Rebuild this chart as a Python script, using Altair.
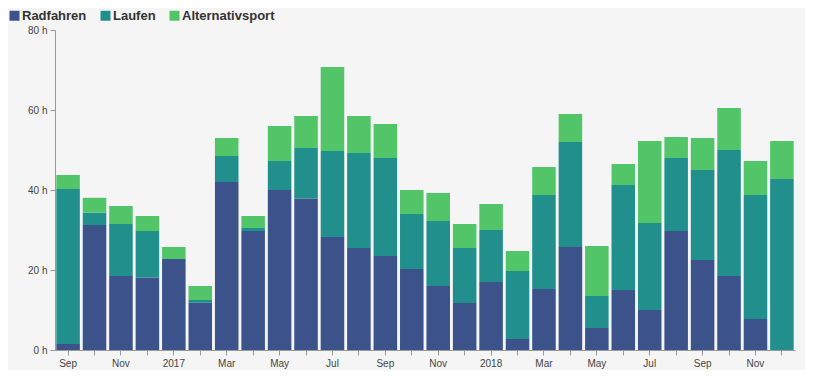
import json
import altair as alt
import pandas as pd

months = ["2016-09", "2016-10", "2016-11", "2016-12",
          "2017-01", "2017-02", "2017-03", "2017-04", "2017-05", "2017-06",
          "2017-07", "2017-08", "2017-09", "2017-10", "2017-11", "2017-12",
          "2018-01", "2018-02", "2018-03", "2018-04", "2018-05", "2018-06",
          "2018-07", "2018-08", "2018-09", "2018-10", "2018-11", "2018-12"]
tick_labels = ["Sep", "", "Nov", "", "2017", "", "Mar", "", "May", "", "Jul", "",
               "Sep", "", "Nov", "", "2018", "", "Mar", "", "May", "", "Jul", "",
               "Sep", "", "Nov", ""]

radfahren = [1.5, 31.25, 18.5, 18.1, 22.75, 11.8, 42.0, 29.75, 40.0, 37.9,
             28.25, 25.5, 23.5, 20.25, 16.0, 11.75, 17.0, 2.75, 15.25, 25.75,
             5.5, 15.0, 10.0, 29.75, 22.5, 18.5, 7.75, 0.0]
laufen = [38.75, 3.1, 13.0, 11.65, 0.0, 0.7, 6.5, 0.75, 7.25, 12.6,
          21.5, 23.75, 24.5, 13.75, 16.25, 13.75, 13.0, 17.0, 23.5, 26.25,
          8.0, 26.25, 21.75, 18.25, 22.5, 31.5, 31.0, 42.75]
alternativ = [3.5, 3.7, 4.5, 3.75, 3.0, 3.5, 4.5, 3.0, 8.75, 8.0,
              21.0, 9.25, 8.5, 6.0, 7.0, 6.0, 6.5, 5.0, 7.0, 7.0,
              12.5, 5.25, 20.5, 5.25, 8.0, 10.5, 8.5, 9.5]

series = ["Radfahren", "Laufen", "Alternativsport"]
colors = ["#3b528b", "#21908d", "#52c569"]

rows = []
for i, m in enumerate(months):
    for k, (name, vals) in enumerate(zip(series, [radfahren, laufen, alternativ])):
        rows.append({"month": m, "sport": name, "hours": vals[i], "ord": k})
df = pd.DataFrame(rows)

label_map = json.dumps(dict(zip(months, tick_labels)))

FONT = "Liberation Sans"

chart = alt.Chart(df).mark_bar().encode(
    x=alt.X("month:O", sort=months,
            scale=alt.Scale(paddingInner=0.11, paddingOuter=0.05),
            axis=alt.Axis(title=None, labelAngle=0, labelExpr=f"{label_map}[datum.value]",
                          labelFont=FONT, labelFontSize=10, labelColor="#444444",
                          tickColor="#999999", domainColor="#999999", tickSize=5,
                          labelPadding=3)),
    y=alt.Y("hours:Q", stack="zero",
            scale=alt.Scale(domain=[0, 80], nice=False),
            axis=alt.Axis(title=None, values=[0, 20, 40, 60, 80], grid=False,
                          labelExpr="datum.value + ' h'",
                          labelFont=FONT, labelFontSize=10, labelColor="#444444",
                          tickColor="#999999", domainColor="#999999", tickSize=5,
                          labelPadding=3)),
    color=alt.Color("sport:N",
                    scale=alt.Scale(domain=series, range=colors),
                    legend=alt.Legend(title=None, orient="none", direction="horizontal",
                                      legendX=-47, legendY=-21,
                                      symbolType="square", symbolSize=100,
                                      symbolStrokeWidth=0, symbolOpacity=1,
                                      labelFont=FONT, labelFontSize=13,
                                      labelFontWeight="bold", labelColor="#333333",
                                      labelOffset=1, columnPadding=12, padding=0)),
    order=alt.Order("ord:Q", sort="ascending"),
).properties(
    width=740, height=320,
    background="#f5f5f5",
    padding={"left": 47, "top": 22, "right": 10, "bottom": 20},
    autosize=alt.AutoSizeParams(type="none"),
).configure_view(stroke=None)

chart.save("out.html", embed_options={"renderer": "svg", "actions": False})
